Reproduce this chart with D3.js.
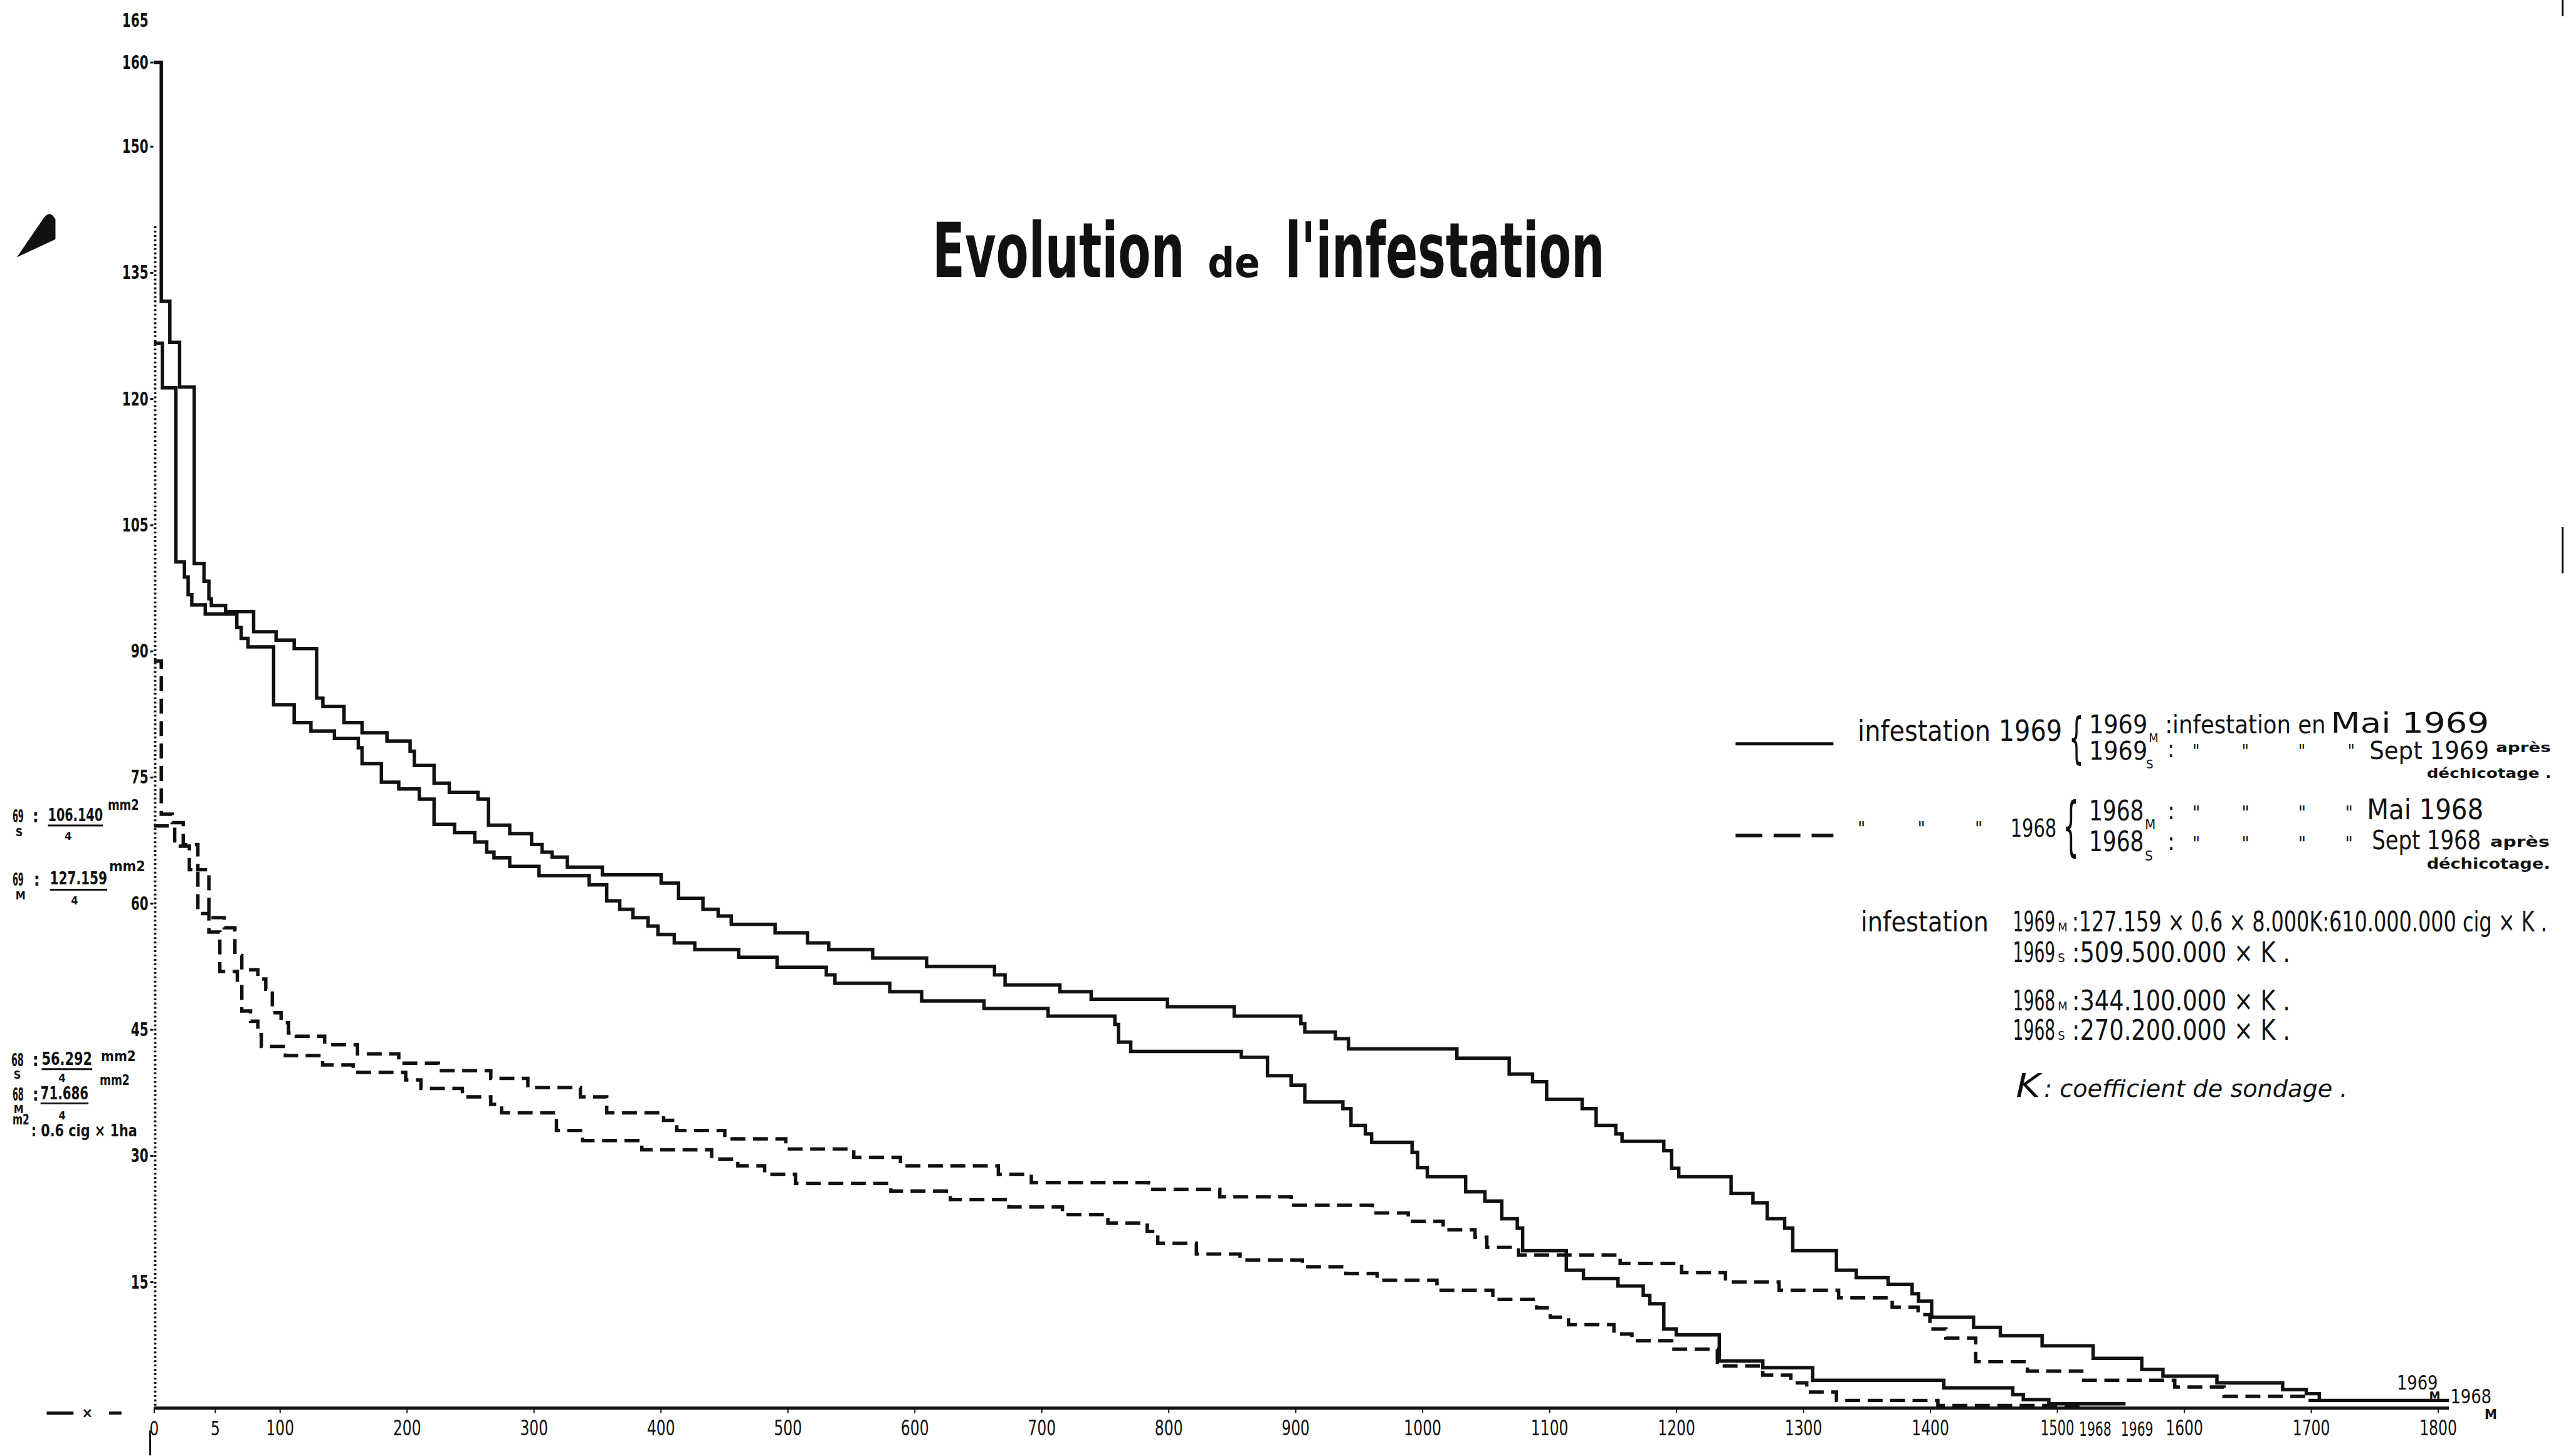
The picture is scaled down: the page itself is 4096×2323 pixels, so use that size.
<!doctype html>
<html>
<head>
<meta charset="utf-8">
<script src="https://d3js.org/d3.v7.min.js"></script>
<style>
    body { margin: 0; background: #fff; }
    svg text { font-family: "DejaVu Sans Condensed", "DejaVu Sans", sans-serif; fill: #111; }
</style>
</head>
<body>
<div id="chart"></div>
<script>
    // ---------- data ----------
    var yTicks = [15, 30, 45, 60, 75, 90, 105, 120, 135, 150, 160, 165];
    var xTicks = [0, 5, 100, 200, 300, 400, 500, 600, 700, 800, 900, 1000, 1100, 1200, 1300, 1400, 1500, 1600, 1700, 1800];
    var xKnots = [0, 5, 100, 1800];          // the first stretch of the axis is drawn wider
    var endMarks = [["1968", 1530], ["1969", 1563]];

    // [position, infestation] for each step (step-after)
    var s1969M = [[0,160],[0.6,131.6],[1.3,126.7],[2.1,121.4],[3.3,100.4],[4.1,98.3],[4.5,96.2],[4.7,95.4],[20.5,94.7],[61.6,92.3],[94.5,91.3],[111.3,90.3],[129,84.4],[133.9,83.4],[150.6,81.5],[164.8,80.3],[184.4,79.3],[202.6,78.1],[206,76.4],[221.5,74.3],[233.5,73.2],[256.1,72.4],[264.4,69.3],[281.1,68.3],[298.3,67],[306.6,66.1],[314.5,65.5],[326.5,64.3],[354.1,63.4],[400.4,62.4],[414.1,60.6],[433.3,59.3],[445.3,58.5],[455.6,57.5],[490.1,56.5],[515.7,55.3],[532.4,54.5],[567,53.5],[609.5,52.5],[663,51.5],[671.3,50.3],[714.5,49.5],[739.1,48.6],[799.2,47.7],[851.8,46.6],[904.3,45.7],[907.4,44.7],[931.5,43.9],[941.8,42.7],[1027.2,41.6],[1068.4,39.7],[1086.8,38.8],[1097.9,36.7],[1125.9,35.6],[1136.9,33.6],[1152.4,32.6],[1157.3,31.7],[1190.2,30.6],[1196.4,28.5],[1202,27.5],[1243.2,25.5],[1260.4,24.4],[1271.7,22.5],[1285.4,21.4],[1291.8,18.7],[1326.2,16.4],[1341.8,15.5],[1366.9,14.7],[1385.8,13.6],[1390.9,12.7],[1401.2,10.8],[1434.2,9.6],[1455.3,8.6],[1488.2,7.4],[1528.4,5.9],[1566.7,4.6],[1583.4,3.8],[1625.9,3.0],[1677.7,2.2],[1696.3,1.7],[1706.6,0.9],[1808.7,0.9]];
    var s1969S = [[0,126.6],[0.7,121.3],[1.8,100.6],[2.5,98.8],[2.8,96.7],[3.1,95.5],[4.2,94.4],[37,92.8],[43.4,91.5],[53.4,90.5],[90.9,83.6],[111.3,81.5],[124.5,80.5],[143,79.6],[161.8,78.5],[164.8,76.6],[180,74.4],[193.7,73.6],[209.9,72.4],[221.5,69.4],[237.7,68.4],[253.6,67.3],[263,66.1],[268.7,65.4],[281.1,64.4],[304.2,63.3],[343.7,62.2],[357.5,60.3],[367.8,59.3],[378.2,58.3],[390.1,57.3],[397.9,56.3],[410.7,55.3],[426.9,54.5],[461.5,53.6],[491.7,52.4],[530.5,51.5],[537.3,50.5],[580.5,49.5],[605.6,48.4],[654.7,47.5],[705.2,46.6],[757.8,45.6],[760.7,43.5],[770.3,42.4],[857.4,41.7],[878,39.5],[896.6,38.4],[907.4,36.4],[937.4,35.6],[943.8,33.6],[955.1,32.6],[960,31.6],[991.9,30.4],[996.3,28.6],[1003.9,27.5],[1034.1,25.7],[1049.3,24.6],[1062.6,22.5],[1074.8,21.4],[1079,18.7],[1113.4,16.4],[1126.9,15.4],[1154.1,14.5],[1174,13.4],[1179.2,12.4],[1190.2,9.4],[1200,8.7],[1233.9,5.6],[1268.2,4.8],[1307.5,3.3],[1410.8,2.4],[1465.1,1.6],[1473.4,1.0],[1493.5,0.5],[1553.9,0.5]];
    var s1968M = [[0,88.8],[0.6,70.6],[1.5,69.6],[2.4,67],[3.6,64],[4.5,58.3],[18.5,57.1],[34.2,53.8],[44.3,52.1],[67.8,51],[79.4,49.8],[89,47],[101,45.8],[106.9,44.6],[113,44.2],[135.3,43.2],[161.2,42.1],[193.7,41],[224.9,40.1],[266.2,39.2],[295.4,38.1],[336.8,37],[357.5,35.1],[402.3,34.2],[412.7,33],[450.5,32],[498.6,30.8],[552.1,29.8],[588.9,28.8],[666,27.8],[692,26.8],[784.3,26],[840.5,25.1],[896.6,24.1],[960.7,23.2],[988.9,22.2],[1016.4,21.2],[1041.5,20.3],[1050.8,19.1],[1075.8,18.2],[1155.8,17.2],[1204.2,16.1],[1238.8,15],[1281,14],[1327.9,13.1],[1370.1,12],[1390.5,11.1],[1399.8,9.4],[1412.4,8.3],[1435.9,5.5],[1476.6,4.4],[1519.4,3.3],[1592.7,2.5],[1631.5,1.4],[1697.8,0.9],[1706.6,0.9]];
    var s1968S = [[0,69.2],[1.7,66.8],[2.9,64],[3.6,58.8],[4.5,56.6],[12.1,51.9],[37.7,50.5],[44.3,47.2],[57.1,46],[67.8,44.4],[73,43],[104.4,41.9],[133.7,40.8],[157.8,39.9],[199.2,39],[211.2,38],[243.8,37],[266.2,36.1],[274.7,35.1],[317.9,33],[338.5,31.8],[385.2,30.7],[440.2,29.6],[460.8,28.8],[481.9,27.8],[506.2,26.7],[581.3,25.8],[628.2,24.8],[674.3,23.9],[716.5,23],[752.3,22],[783.3,21],[791.6,19.6],[822,18.3],[856.4,17.6],[905.5,16.8],[939.8,16],[964.4,15.2],[1011.5,14],[1055.5,12.9],[1090,11.9],[1100.8,10.8],[1115.1,9.9],[1150.9,8.8],[1165.1,8],[1196.4,7],[1232.4,5],[1268.2,3.9],[1290.3,3],[1302.8,1.9],[1326.2,0.9],[1406.1,0.3],[1520,0.3]];

    // ---------- setup: everything laid out in the scan's own pixels, then scaled ----------
    var W = 4096, H = 2323, k = 0.994;
    var svg = d3.select("#chart").append("svg").attr("width", W).attr("height", H);
    svg.append("rect").attr("width", W).attr("height", H).attr("fill", "#fff");
    var g = svg.append("g").attr("transform", "scale(" + k + ")");

    var x = d3.scaleLinear().domain(xKnots).range([247, 345, 449, 3912]);
    var y = d3.scaleLinear().domain([0, 165]).range([2260, 32.5]);

    // squeeze a text horizontally to the width it has on the scan
    function fit(t, w) {
        var px = +t.attr("x") || 0, py = +t.attr("y") || 0;
        var nat = t.node().getComputedTextLength();
        if (!nat) return;
        t.attr("x", 0).attr("y", 0)
         .attr("transform", "translate(" + px + "," + py + ") scale(" + (w / nat) + ",1)");
    }
    function txt(px, py, s, size, o) {
        o = o || {};
        var t = g.append("text").attr("x", px).attr("y", py).attr("font-size", size).text(s);
        if (o.bold) t.attr("font-weight", "bold");
        if (o.italic) t.attr("font-style", "italic");
        if (o.anchor) t.attr("text-anchor", o.anchor);
        if (o.w) fit(t, o.w);
        return t;
    }
    function seg(x1, y1, x2, y2, w) {
        g.append("line").attr("x1", x1).attr("y1", y1).attr("x2", x2).attr("y2", y2)
         .attr("stroke", "#111").attr("stroke-width", w || 3);
    }

    // ---------- axes ----------
    // dotted vertical axis
    g.append("line")
     .attr("x1", 249).attr("x2", 249)
     .attr("y1", y(140.5)).attr("y2", y(0))
     .attr("stroke", "#111").attr("stroke-width", 4).attr("stroke-dasharray", "3 4");

    var yAxis = g.append("g").attr("transform", "translate(246,0)")
        .call(d3.axisLeft(y).tickValues(yTicks).tickSize(5).tickPadding(3).tickFormat(d3.format("d")));
    yAxis.select(".domain").remove();
    yAxis.selectAll(".tick line").attr("stroke", "#111").attr("stroke-width", 3)
         .attr("opacity", function(d) { return d === 165 ? 0 : 1; });
    yAxis.selectAll(".tick text")
         .attr("font-size", 31).attr("font-weight", "bold")
         .each(function(d) { fit(d3.select(this), String(d).length * 14); });

    // horizontal axis
    g.append("line")
     .attr("x1", x(0)).attr("x2", x(1808.7))
     .attr("y1", y(0)).attr("y2", y(0))
     .attr("stroke", "#111").attr("stroke-width", 5);

    var xAxis = g.append("g").attr("transform", "translate(0," + y(0) + ")")
        .call(d3.axisBottom(x).tickValues(xTicks).tickSize(8).tickPadding(12).tickFormat(d3.format("d")));
    xAxis.select(".domain").remove();
    xAxis.selectAll(".tick line").attr("stroke", "#111").attr("stroke-width", 2);
    xAxis.selectAll(".tick text")
         .attr("font-size", 33)
         .each(function(d) { fit(d3.select(this), String(d).length * (d === 1500 ? 13.5 : 15)); });

    endMarks.forEach(function(m) {
        txt(x(m[1]), 2305, m[0], 33, { w: 52, anchor: "middle" });
    });
    seg(241, 2296, 241, 2336, 3);

    // ---------- curves ----------
    var line = d3.line()
        .x(function(d) { return x(d[0]); })
        .y(function(d) { return y(d[1]); })
        .curve(d3.curveStepAfter);

    [[s1969M, null], [s1969S, null], [s1968M, "24 12"], [s1968S, "24 12"]].forEach(function(s) {
        g.append("path")
         .datum(s[0])
         .attr("d", line)
         .attr("fill", "none")
         .attr("stroke", "#111")
         .attr("stroke-width", 5.5)
         .attr("stroke-dasharray", s[1]);
    });

    // labels at the end of the curves
    txt(3846, 2230, "1969", 32, { w: 66 });
    txt(3898, 2248, "M", 20, { bold: true });
    txt(3932, 2253, "1968", 32, { w: 66 });
    txt(3987, 2278, "M", 22, { bold: true, w: 20 });

    // ---------- title ----------
    txt(1496, 445, "Evolution", 122, { w: 405, bold: true });
    txt(1938, 445, "de", 66, { w: 84, bold: true });
    txt(2062, 445, "l'infestation", 122, { w: 513, bold: true });

    // ---------- legend ----------
    seg(2785, 1194, 2942, 1194, 5);
    txt(2981, 1189, "infestation 1969", 46, { w: 328 });
    txt(3320, 1214, "{", 88, { w: 24 });
    txt(3352, 1177, "1969", 42, { w: 94 });
    txt(3448, 1191, "M", 20);
    txt(3474, 1177, ":infestation en", 42, { w: 258 });
    txt(3740, 1176, "Mai 1969", 44, { w: 254 });
    txt(3352, 1219, "1969", 42, { w: 94 });
    txt(3444, 1233, "S", 20);
    txt(3478, 1215, ":", 38);
    [3518, 3597, 3688, 3767].forEach(function(px) { txt(px, 1215, "\"", 28); });
    txt(3802, 1218, "Sept 1969", 40, { w: 192 });
    txt(4005, 1207, "après", 22, { w: 88, bold: true });
    txt(3894, 1248, "déchicotage .", 21, { w: 200, bold: true });

    g.append("line").attr("x1", 2785).attr("x2", 2942).attr("y1", 1341).attr("y2", 1341)
     .attr("stroke", "#111").attr("stroke-width", 6).attr("stroke-dasharray", "43 18");
    [2981, 3077, 3169].forEach(function(px) { txt(px, 1340, "\"", 30); });
    txt(3226, 1343, "1968", 40, { w: 74 });
    txt(3310, 1362, "{", 104, { w: 26 });
    txt(3352, 1317, "1968", 44, { w: 88 });
    txt(3442, 1331, "M", 22);
    txt(3478, 1315, ":", 40);
    [3518, 3597, 3688, 3763].forEach(function(px) { txt(px, 1315, "\"", 30); });
    txt(3798, 1315, "Mai 1968", 44, { w: 187 });
    txt(3352, 1366, "1968", 44, { w: 88 });
    txt(3442, 1381, "S", 22);
    txt(3478, 1364, ":", 40);
    [3518, 3597, 3688, 3763].forEach(function(px) { txt(px, 1364, "\"", 30); });
    txt(3806, 1363, "Sept 1968", 42, { w: 175 });
    txt(3996, 1359, "après", 24, { w: 95, bold: true });
    txt(3894, 1394, "déchicotage.", 24, { w: 198, bold: true });

    // totals
    txt(2986, 1495, "infestation", 44, { w: 205 });
    txt(3230, 1495, "1969", 44, { w: 68 });
    txt(3302, 1495, "M", 20);
    txt(3325, 1495, ":127.159 × 0.6 × 8.000K:610.000.000 cig × K .", 44, { w: 762 });
    txt(3230, 1544, "1969", 44, { w: 68 });
    txt(3302, 1544, "S", 20);
    txt(3325, 1544, ":509.500.000 × K .", 44, { w: 350 });
    txt(3230, 1622, "1968", 44, { w: 68 });
    txt(3302, 1622, "M", 20);
    txt(3325, 1622, ":344.100.000 × K .", 44, { w: 350 });
    txt(3230, 1669, "1968", 44, { w: 68 });
    txt(3302, 1669, "S", 20);
    txt(3325, 1669, ":270.200.000 × K .", 44, { w: 350 });
    txt(3235, 1761, "K", 52, { w: 39, italic: true });
    txt(3280, 1761, ": coefficient de sondage .", 38, { w: 487, italic: true });

    // ---------- notes on the left ----------
    txt(20, 1320, "69", 28, { w: 18, bold: true });
    txt(52, 1320, ":", 28, { bold: true });
    txt(77, 1318, "106.140", 28, { w: 88, bold: true });
    seg(77, 1325, 165, 1325, 3);
    txt(173, 1300, "mm2", 24, { w: 50, bold: true });
    txt(25, 1342, "S", 18, { bold: true });
    txt(104, 1348, "4", 18, { bold: true });

    txt(20, 1422, "69", 28, { w: 18, bold: true });
    txt(54, 1422, ":", 28, { bold: true });
    txt(80, 1420, "127.159", 28, { w: 92, bold: true });
    seg(80, 1428, 172, 1428, 3);
    txt(175, 1398, "mm2", 24, { w: 58, bold: true });
    txt(25, 1444, "M", 18, { bold: true });
    txt(114, 1452, "4", 18, { bold: true });

    txt(18, 1711, "68", 28, { w: 20, bold: true });
    txt(52, 1711, ":", 28, { bold: true });
    txt(67, 1709, "56.292", 28, { w: 81, bold: true });
    seg(67, 1716, 148, 1716, 3);
    txt(162, 1703, "mm2", 24, { w: 56, bold: true });
    txt(22, 1731, "S", 18, { bold: true });
    txt(94, 1736, "4", 18, { bold: true });

    txt(20, 1767, "68", 28, { w: 18, bold: true });
    txt(52, 1767, ":", 28, { bold: true });
    txt(65, 1765, "71.686", 28, { w: 77, bold: true });
    seg(65, 1771, 142, 1771, 3);
    txt(160, 1741, "mm2", 24, { w: 48, bold: true });
    txt(22, 1787, "M", 18, { bold: true });
    txt(94, 1797, "4", 18, { bold: true });

    txt(20, 1805, "m2", 24, { w: 27, bold: true });
    txt(50, 1824, ": 0.6 cig × 1ha", 26, { w: 170, bold: true });

    // little key at the bottom left
    seg(75, 2268, 118, 2268, 5);
    txt(140, 2276, "×", 24, { bold: true, anchor: "middle" });
    seg(175, 2268, 195, 2268, 5);

    // marks of the scan itself
    g.append("path").attr("d", "M27,413 L70,350 Q80,336 89,352 L89,384 Z").attr("fill", "#111");
    seg(4112, 0, 4112, 26, 3);
    seg(4112, 846, 4112, 920, 3);
</script>
</body>
</html>
